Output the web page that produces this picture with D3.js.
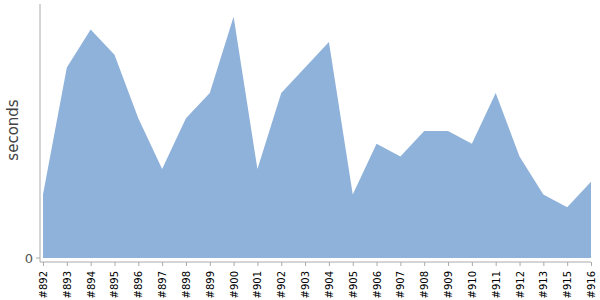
<!DOCTYPE html>
<html>
<head>
<meta charset="utf-8">
<script src="https://d3js.org/d3.v7.min.js"></script>
<style>
  body { margin: 0; }
  svg { font-family: "DejaVu Sans", Verdana, sans-serif; }
  .axis path, .axis line { stroke: #aaa; }
</style>
</head>
<body>
<script>
// builds and their durations (seconds)
var builds = ["#892","#893","#894","#895","#896","#897","#898","#899","#900","#901","#902","#903",
              "#904","#905","#906","#907","#908","#909","#910","#911","#912","#913","#915","#916"];
var seconds = [5, 15, 18, 16, 11, 7, 11, 13, 19, 7, 13, 15,
               17, 5, 9, 8, 10, 10, 9, 13, 8, 5, 4, 6];
var yTicks = [0];

var width = 600, height = 300;
var svg = d3.select("body").append("svg")
    .attr("width", width)
    .attr("height", height);

var x = d3.scalePoint().domain(builds).range([43, 591]);
var y = d3.scaleLinear().domain([0, 20]).range([258, 4]);

var data = builds.map(function(b, i) { return {build: b, value: seconds[i]}; });

var area = d3.area()
    .x(function(d) { return x(d.build); })
    .y0(y(0))
    .y1(function(d) { return y(d.value); });

svg.append("path")
    .datum(data)
    .attr("fill", "#8fb2da")
    .attr("d", area);

// y axis
var yAxis = svg.append("g")
    .attr("class", "axis")
    .attr("transform", "translate(40,0)");
yAxis.append("line")
    .attr("x1", 0).attr("x2", 0)
    .attr("y1", 4).attr("y2", 262);
yAxis.selectAll(".tick")
    .data(yTicks)
    .join("g")
    .attr("class", "tick")
    .attr("transform", function(d) { return "translate(0," + y(d) + ")"; })
    .call(function(g) {
      g.append("line").attr("x1", -4).attr("x2", 0);
      g.append("text")
        .attr("x", -7)
        .attr("dy", "0.35em")
        .attr("text-anchor", "end")
        .attr("fill", "#555")
        .attr("font-size", 13)
        .text(function(d) { return d; });
    });

// x axis
var xAxis = svg.append("g")
    .attr("class", "axis")
    .attr("transform", "translate(0,262)")
    .call(d3.axisBottom(x).tickSizeOuter(0).tickSize(4));
xAxis.select(".domain").attr("d", "M40,0H591");
xAxis.selectAll(".tick text")
    .attr("fill", "#000")
    .attr("font-size", 10)
    .attr("font-family", "DejaVu Sans, sans-serif")
    .attr("text-anchor", "end")
    .attr("dy", "0.35em")
    .attr("transform", "rotate(-90)")
    .attr("x", -9)
    .attr("y", 0);

// y label
svg.append("text")
    .attr("transform", "translate(18,130) rotate(-90)")
    .attr("text-anchor", "middle")
    .attr("font-size", 15)
    .attr("fill", "#444")
    .text("seconds");
</script>
</body>
</html>
